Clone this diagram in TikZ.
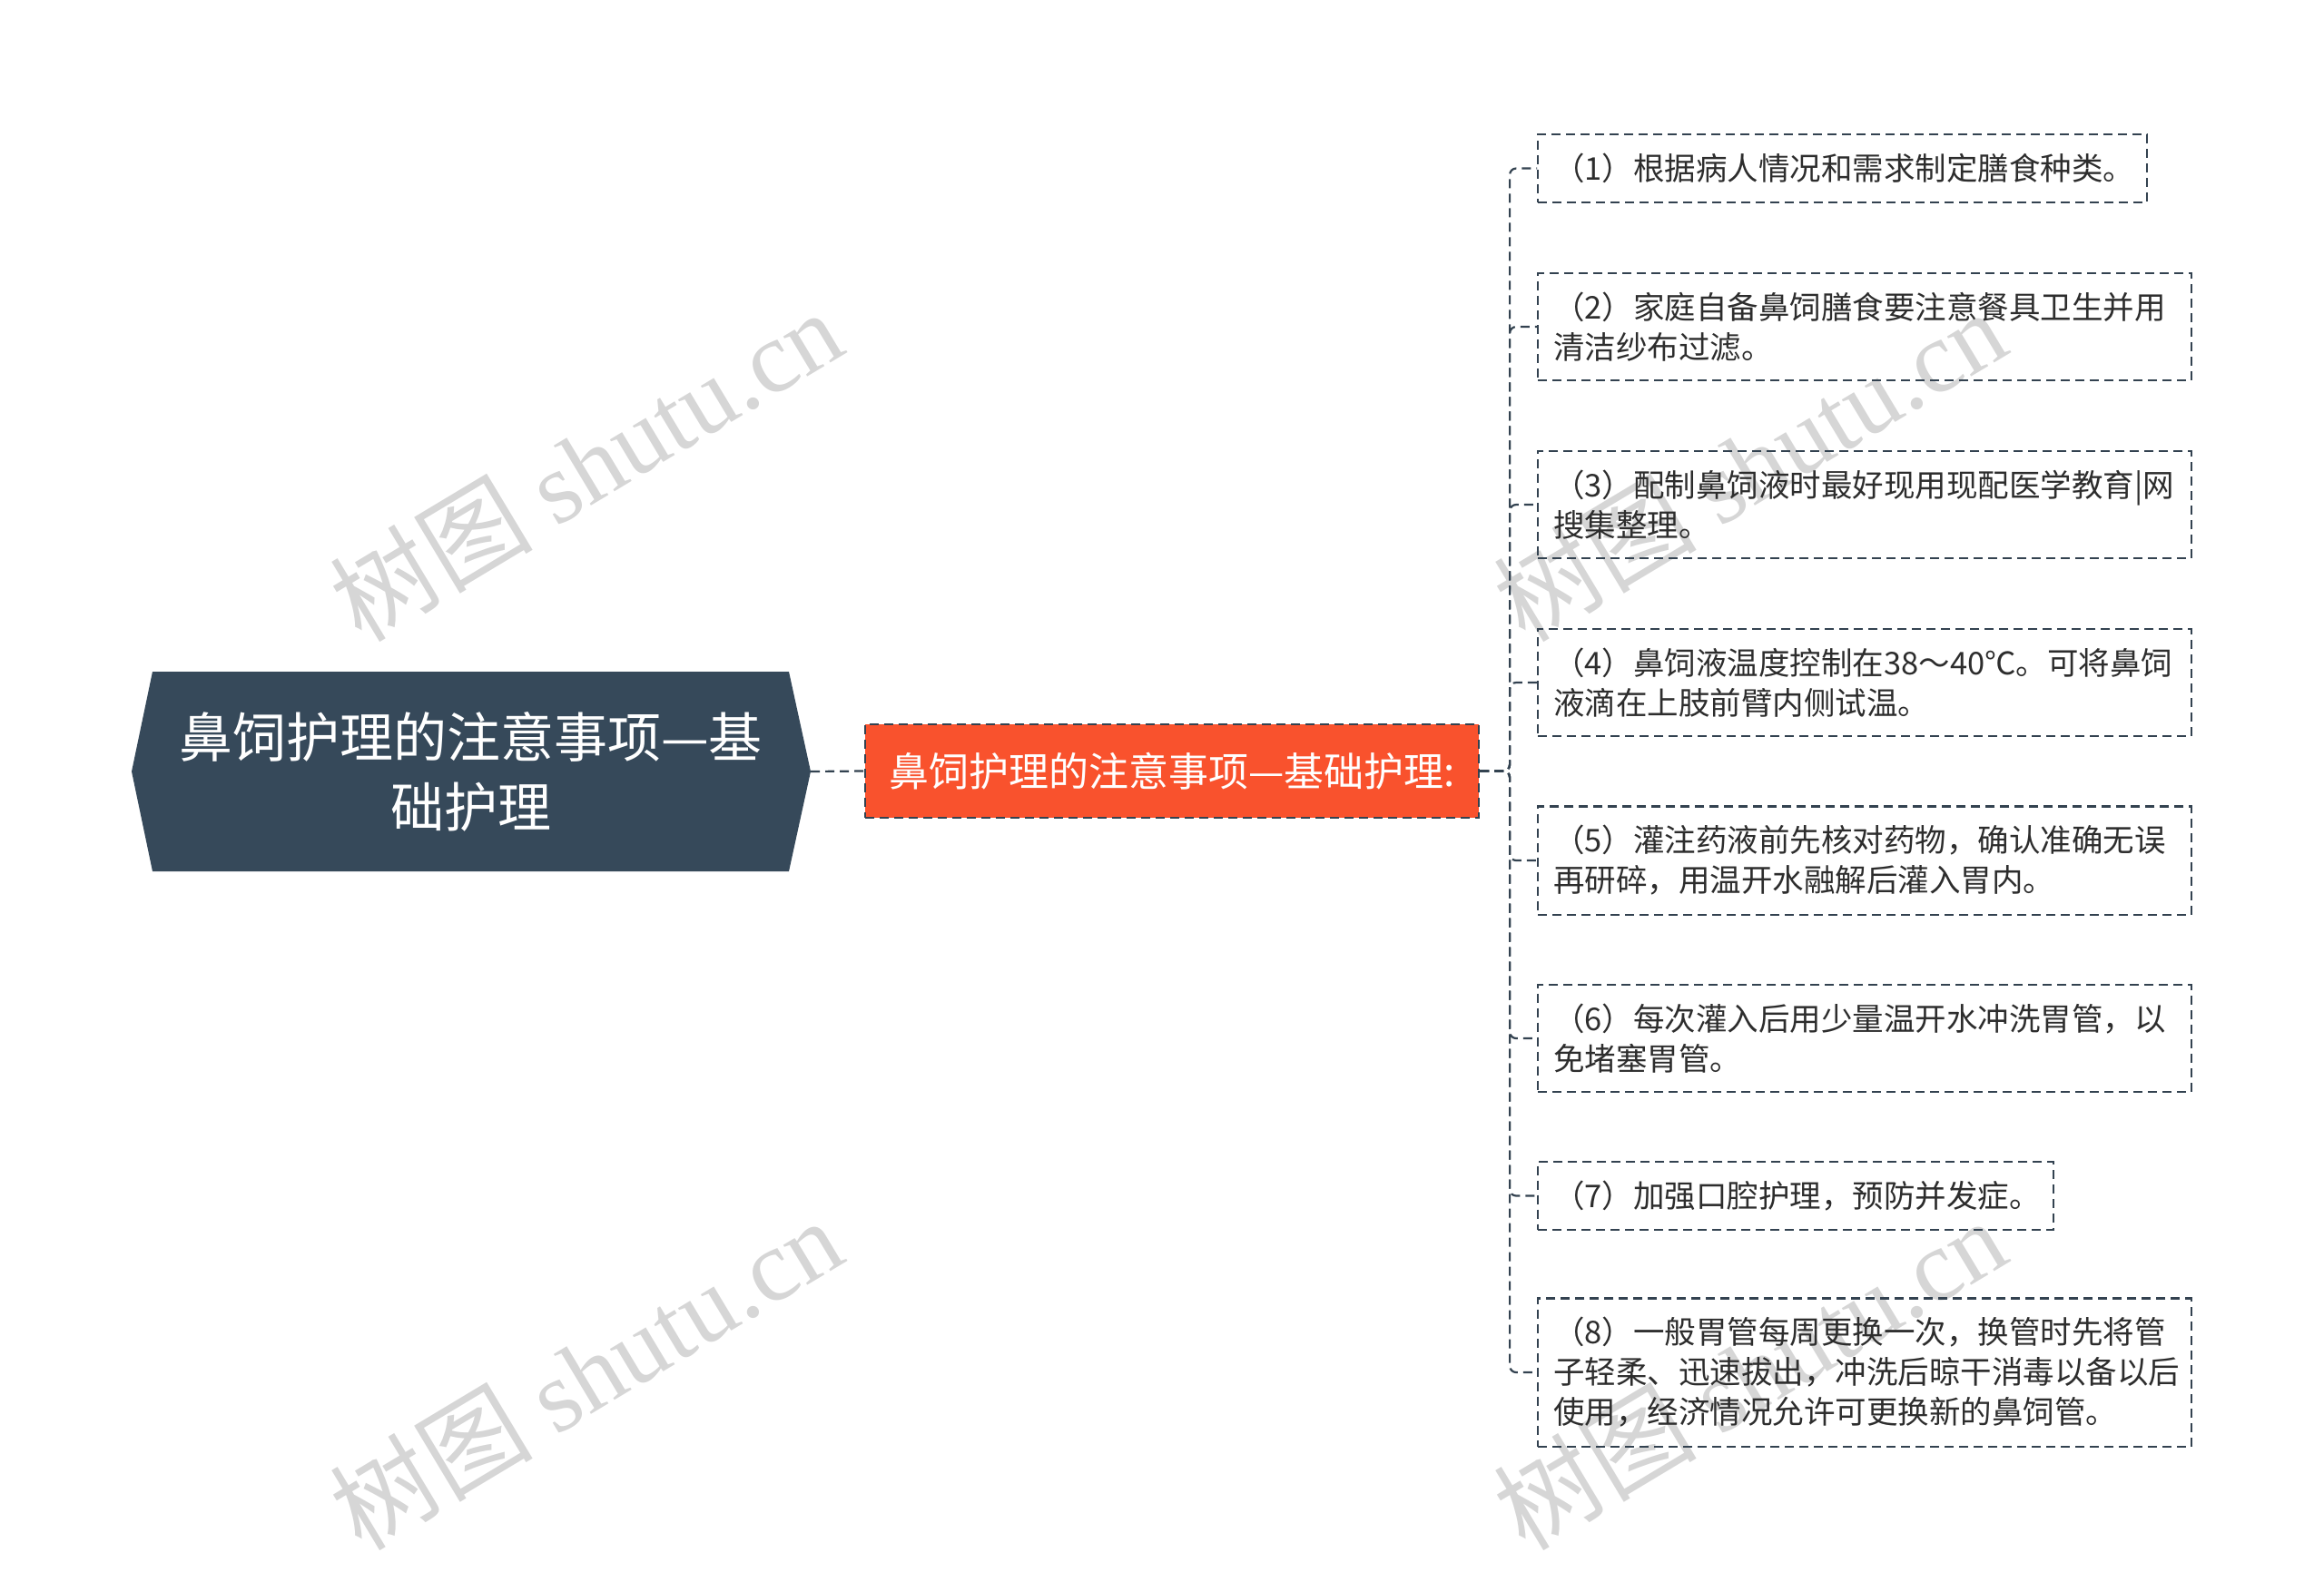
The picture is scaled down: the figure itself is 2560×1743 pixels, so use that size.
\documentclass[tikz,border=0pt]{standalone}
\usepackage{fontspec}
\setmainfont{Noto Sans CJK SC}
\newfontfamily\wmlatin{Liberation Serif}
\definecolor{rootfill}{RGB}{54,73,90}
\definecolor{midfill}{RGB}{249,82,45}
\definecolor{linecol}{RGB}{51,66,80}
\definecolor{txt}{RGB}{45,45,45}
\definecolor{wm}{RGB}{214,214,214}
\begin{document}
\begin{tikzpicture}[x=1pt,y=-1pt,
  leaf/.style={draw=linecol, dash pattern=on 10pt off 6pt, line width=2.2pt, anchor=west, align=left,
    inner xsep=17pt, inner ysep=21pt, text=txt, font=\fontsize{34.5pt}{44pt}\selectfont},
  conn/.style={draw=linecol, line width=2.2pt, dash pattern=on 10pt off 6pt, rounded corners=7pt},
  wmark/.style={text=wm, rotate=31, font=\fontsize{112pt}{112pt}\selectfont}]
\useasboundingbox (0,0) rectangle (2560,1743);
% watermarks
\node[wmark] (w1) at (645,512) {树图 {\wmlatin shutu.cn}};
\node[wmark] (w2) at (1927,512) {树图 {\wmlatin shutu.cn}};
\node[wmark] (w3) at (645,1513) {树图 {\wmlatin shutu.cn}};
\node[wmark] (w4) at (1927,1513) {树图 {\wmlatin shutu.cn}};
% root
\coordinate (rc) at (518.5,850);
\coordinate (rNW) at (168,740);
\coordinate (rNE) at (869,740);
\coordinate (rootR) at (893,850);
\coordinate (rSE) at (869,960);
\coordinate (rSW) at (168,960);
\coordinate (rootL) at (145,850);
\fill[rootfill] (rNW) -- (rNE) -- (rootR) -- (rSE) -- (rSW) -- (rootL) -- cycle;
\node[minimum width=701pt, minimum height=220pt, inner sep=0pt, text=white, align=center,
  font=\fontsize{59pt}{77pt}\selectfont] (root) at (rc) {鼻饲护理的注意事项—基\\础护理};
% middle
\node[fill=midfill, draw=linecol, dash pattern=on 10pt off 6pt, line width=2.2pt,
  minimum width=676pt, minimum height=103pt, inner sep=0pt, text=white,
  font=\fontsize{44pt}{50pt}\selectfont] (mid) at (1291,849.5) {鼻饲护理的注意事项—基础护理:};
\draw[conn] (rootR) -- (mid.west);
% leaves
\node[leaf, text width=637pt] (l1) at (1693,185.5) {（1）根据病人情况和需求制定膳食种类。};
\node[leaf, text width=686pt] (l2) at (1693,360) {（2）家庭自备鼻饲膳食要注意餐具卫生并用\\清洁纱布过滤。};
\node[leaf, text width=686pt] (l3) at (1693,556) {（3）配制鼻饲液时最好现用现配医学教育|网\\搜集整理。};
\node[leaf, text width=686pt] (l4) at (1693,752) {（4）鼻饲液温度控制在38～40℃。可将鼻饲\\液滴在上肢前臂内侧试温。};
\node[leaf, text width=686pt] (l5) at (1693,948) {（5）灌注药液前先核对药物，确认准确无误\\再研碎，用温开水融解后灌入胃内。};
\node[leaf, text width=686pt] (l6) at (1693,1144) {（6）每次灌入后用少量温开水冲洗胃管，以\\免堵塞胃管。};
\node[leaf, text width=534pt] (l7) at (1693,1317.5) {（7）加强口腔护理，预防并发症。};
\node[leaf, text width=686pt] (l8) at (1693,1512) {（8）一般胃管每周更换一次，换管时先将管\\子轻柔、迅速拔出，冲洗后晾干消毒以备以后\\使用，经济情况允许可更换新的鼻饲管。};
\foreach \i in {1,...,8}{
  \draw[conn] (mid.east) -- ++(33pt,0) |- (l\i.west);
}
\end{tikzpicture}
\end{document}
